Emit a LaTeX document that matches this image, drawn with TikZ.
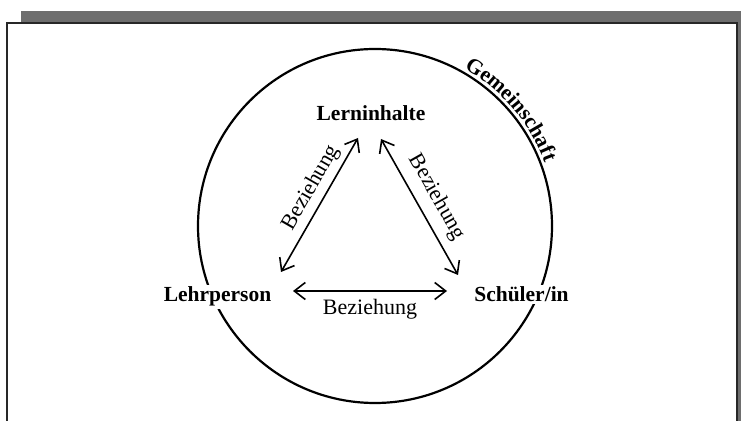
\documentclass[tikz,border=0pt]{standalone}
\usepackage{fontspec}
\setmainfont{Liberation Serif}
\usetikzlibrary{arrows.meta,decorations.text}
\tikzset{
  bigtext/.style={font=\fontsize{22pt}{26pt}\selectfont},
  role/.style={font=\fontsize{21.5pt}{25pt}\selectfont\bfseries,anchor=base,inner sep=2pt,fill=white},
  rel/.style={line width=1.6pt,{Straight Barb[length=11pt,width=17pt,line width=1.6pt]}-{Straight Barb[length=11pt,width=17pt,line width=1.6pt]}},
  rellabel/.style={bigtext,inner sep=3pt}
}
\begin{document}
\begin{tikzpicture}[x=1pt,y=1pt]
\useasboundingbox (0,0) rectangle (741,420);
% shadow and frame
\fill[fill={rgb,255:red,110;green,110;blue,110}] (21,409) rectangle (760,-20);
\draw[line width=2pt,draw={rgb,255:red,40;green,40;blue,40},fill=white] (7,397) rectangle (737,-20);
% circle
\coordinate (C) at (375,194);
\draw[line width=2.2pt] (C) circle[radius=177];
\path[decorate,decoration={text along path,text align=left,
  text={|\fontsize{21.5pt}{25pt}\selectfont\bfseries|Gemeinschaft}}]
  (C) ++(60.5:181) arc[start angle=60.5,end angle=15,radius=181];
% nodes
\node[role] (lern) at (371,299) {Lerninhalte};
\node[role] (lehr) at (217.5,118) {Lehrperson};
\node[role] (sch) at (521.5,118) {Schüler/in};
% arrow end points
\coordinate (lehrA) at ([shift={(63.5,30)}]lehr.base);
\coordinate (lehrB) at ([shift={(75.5,11)}]lehr.base);
\coordinate (lernA) at ([shift={(-13,-17)}]lern.base);
\coordinate (lernB) at ([shift={(10,-18)}]lern.base);
\coordinate (schA) at ([shift={(-63.5,27)}]sch.base);
\coordinate (schB) at ([shift={(-74.5,11)}]sch.base);
% connectors
\draw[rel] (lehrA) -- node[rellabel,sloped,above,pos=0.57,inner sep=5pt] {Beziehung} (lernA);
\draw[rel] (lernB) -- node[rellabel,sloped,above,pos=0.5,inner sep=9pt] {Beziehung} (schA);
\draw[rel] (lehrB) -- node[rellabel,below,inner sep=7pt] {Beziehung} (schB);
\end{tikzpicture}
\end{document}
